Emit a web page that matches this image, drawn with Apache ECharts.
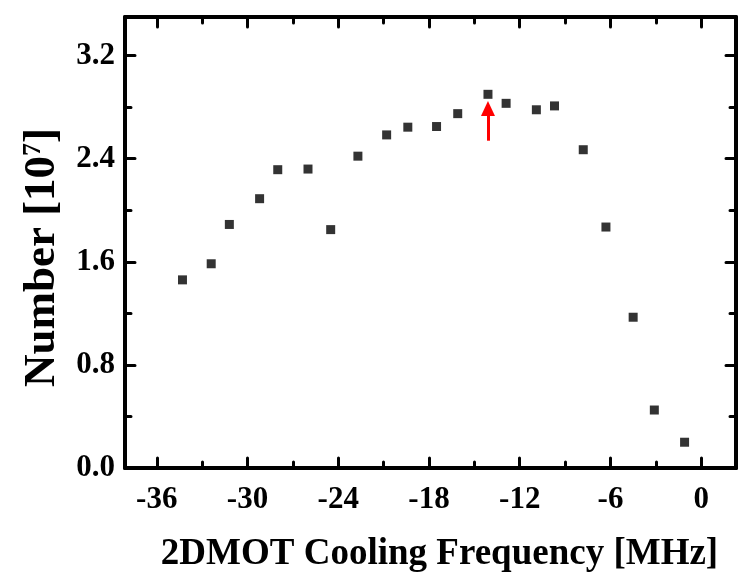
<!DOCTYPE html>
<html>
<head>
<meta charset="utf-8">
<script src="https://cdn.jsdelivr.net/npm/echarts@6/dist/echarts.min.js"></script>
<style>
html,body{margin:0;padding:0;background:#fff;}
#chart{width:740px;height:578px;}
</style>
</head>
<body>
<div id="chart"></div>
<script>
// Data
var freq = [-34.3, -32.4, -31.2, -29.2, -28.0, -26.0, -24.5, -22.7, -20.8, -19.4, -17.5, -16.1, -14.1, -12.9, -10.9, -9.7, -7.8, -6.3, -4.5, -3.1, -1.1];
var number = [1.46, 1.585, 1.89, 2.09, 2.315, 2.32, 1.85, 2.42, 2.585, 2.645, 2.65, 2.75, 2.9, 2.83, 2.78, 2.81, 2.47, 1.87, 1.17, 0.45, 0.2];
var xMajorTicks = [-36, -30, -24, -18, -12, -6, 0];
var xMinorTicks = [-33, -27, -21, -15, -9, -3];
var yMajorTicks = [0, 0.8, 1.6, 2.4, 3.2];
var yMinorTicks = [0.4, 1.2, 2.0, 2.8];
var arrowX = -14.1, arrowFrom = 2.54, arrowTo = 2.79;

var FONT = '"Liberation Serif", "Times New Roman", serif';
var X_MIN = -38.1, X_MAX = 2.3, Y_MIN = 0, Y_MAX = 3.5;

function xAx(pos, ticks, len, showLine, labels, name) {
  return {
    type: 'value', position: pos, min: X_MIN, max: X_MAX,
    splitLine: {show: false},
    axisLine: {show: showLine, onZero: false, lineStyle: {color: '#000', width: 4}},
    axisTick: {show: true, inside: true, length: len, customValues: ticks, lineStyle: {color: '#000', width: 3, cap: 'round'}},
    axisLabel: labels ? {show: true, customValues: ticks, margin: 16, color: '#000', fontFamily: FONT, fontWeight: 'bold', fontSize: 31, formatter: function(v){return String(v);}} : {show: false},
    name: name || '', nameLocation: 'middle', nameGap: 68,
    nameTextStyle: {color: '#000', fontFamily: FONT, fontWeight: 'bold', fontSize: 37, padding: [0, 0, 0, 18]}
  };
}
function yAx(pos, ticks, len, showLine, labels, name) {
  return {
    type: 'value', position: pos, min: Y_MIN, max: Y_MAX,
    splitLine: {show: false},
    axisLine: {show: showLine, onZero: false, lineStyle: {color: '#000', width: 4}},
    axisTick: {show: true, inside: true, length: len, customValues: ticks, lineStyle: {color: '#000', width: 3, cap: 'round'}},
    axisLabel: labels ? {show: true, customValues: ticks, margin: 10, color: '#000', fontFamily: FONT, fontWeight: 'bold', fontSize: 31, formatter: function(v){return v.toFixed(1);}} : {show: false},
    name: name || '', nameLocation: 'middle', nameGap: 59, nameRotate: 90,
    nameTextStyle: {color: '#000', fontFamily: FONT, fontWeight: 'bold', fontSize: 45, padding: [0, 30, 0, 0],
      rich: {
        a: {fontFamily: FONT, fontWeight: 'bold', fontSize: 45, color: '#000'},
        s: {fontFamily: FONT, fontWeight: 'bold', fontSize: 26, color: '#000', verticalAlign: 'top', padding: [0,0,20,0]}
      }}
  };
}

var chart = echarts.init(document.getElementById('chart'), null, {renderer: 'canvas'});
chart.setOption({
  backgroundColor: '#fff',
  animation: false,
  grid: {left: 125, right: 4, top: 17, bottom: 105, containLabel: false},
  xAxis: [
    xAx('bottom', xMajorTicks, 10, true, true, '2DMOT Cooling Frequency [MHz]'),
    xAx('bottom', xMinorTicks, 6, false, false),
    xAx('top', xMajorTicks, 10, true, false),
    xAx('top', xMinorTicks, 6, false, false)
  ],
  yAxis: [
    yAx('left', yMajorTicks, 10, true, true, '{a|Number [10}{s|7}{a|]}'),
    yAx('left', yMinorTicks, 6, false, false),
    yAx('right', yMajorTicks, 10, true, false),
    yAx('right', yMinorTicks, 6, false, false)
  ],
  series: [{
    type: 'scatter',
    xAxisIndex: 0, yAxisIndex: 0,
    symbol: 'rect', symbolSize: 9,
    itemStyle: {color: '#000'},
    data: freq.map(function(f, i){ return [f, number[i]]; }),
    markLine: {
      silent: true, animation: false,
      symbol: ['none', 'triangle'], symbolSize: [14, 15],
      label: {show: false},
      lineStyle: {color: '#ff0000', width: 3, type: 'solid'},
      data: [[{coord: [arrowX, arrowFrom]}, {coord: [arrowX, arrowTo]}]]
    }
  }]
});
</script>
</body>
</html>
